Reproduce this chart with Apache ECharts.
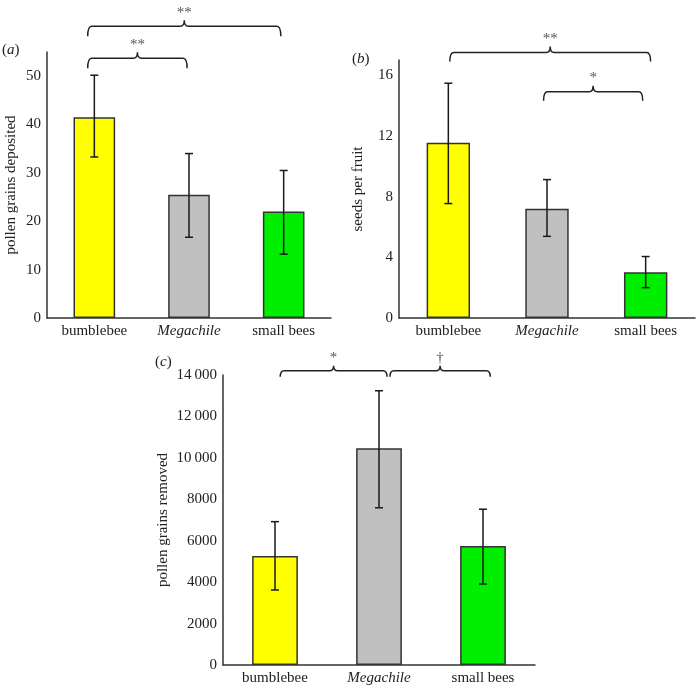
<!DOCTYPE html>
<html><head><meta charset="utf-8">
<script src="https://cdn.jsdelivr.net/npm/echarts@6/dist/echarts.min.js"></script>
<style>html,body{margin:0;padding:0;background:#fff}#c{width:696px;height:686px}</style>
</head><body><div id="c"></div>
<script>
var categories = ['bumblebee', 'Megachile', 'small bees'];
var pollenDeposited = [41.5, 25.5, 22.0];
var pollenDepositedLow = [33.3, 16.7, 13.2];
var pollenDepositedHigh = [50.2, 34.0, 30.5];
var seedsPerFruit = [11.55, 7.2, 3.02];
var seedsLow = [7.54, 5.38, 2.0];
var seedsHigh = [15.47, 9.12, 4.05];
var pollenRemoved = [5260, 10460, 5745];
var pollenRemovedLow = [3620, 7590, 3910];
var pollenRemovedHigh = [6920, 13240, 7520];
var barColors = ['#ffff00', '#c0c0c0', '#00ee00'];
// significance brackets: [from category, to category, level, label]
var bracesA = [[0, 2, 60.3, '**'], [0, 1, 53.7, '**']];
var bracesB = [[0, 2, 17.5, '**'], [1, 2, 14.9, '*']];
var bracesC = [[0, 1, 14200, '*'], [1, 2, 14200, '\u2020']];

// layout-only tweaks for the bracket ends (fraction of a category band)
var braceOffA = [[-0.07, -0.03], [-0.07, -0.02]];
var braceOffB = [[0.015, 0.05], [-0.035, -0.03]];
var braceOffC = [[0.05, 0.077], [0.105, 0.07]];

var FONT = '"Liberation Serif", "Times New Roman", serif';
var AX = '#333';

function errData(lo, hi) {
  return lo.map(function (l, i) { return [i, l, hi[i]]; });
}
function errRender(params, api) {
  var x = api.coord([api.value(0), 0])[0];
  var y1 = api.coord([0, api.value(1)])[1];
  var y2 = api.coord([0, api.value(2)])[1];
  var w = 4;
  var st = { stroke: '#1a1a1a', lineWidth: 1.5 };
  return { type: 'group', children: [
    { type: 'line', shape: { x1: x, y1: y1, x2: x, y2: y2 }, style: st },
    { type: 'line', shape: { x1: x - w, y1: y1, x2: x + w, y2: y1 }, style: st },
    { type: 'line', shape: { x1: x - w, y1: y2, x2: x + w, y2: y2 }, style: st }
  ]};
}
function braceData(b, off) {
  return b.map(function (d, i) { return [d[0], d[1], d[2], off[i][0], off[i][1]]; });
}
function makeBraceRender(braces, depth, tip) {
  return function (params, api) {
    var bw = api.size([1, 0])[0];
    var x0 = api.coord([api.value(0), 0])[0] + api.value(3) * bw;
    var x1 = api.coord([api.value(1), 0])[0] + api.value(4) * bw;
    var y = api.coord([0, api.value(2)])[1];
    var xm = (x0 + x1) / 2, r = 4;
    var p = 'M' + x0 + ' ' + (y + depth) +
      ' Q' + x0 + ' ' + y + ' ' + (x0 + r) + ' ' + y +
      ' L' + (xm - r) + ' ' + y +
      ' Q' + xm + ' ' + y + ' ' + xm + ' ' + (y - tip) +
      ' Q' + xm + ' ' + y + ' ' + (xm + r) + ' ' + y +
      ' L' + (x1 - r) + ' ' + y +
      ' Q' + x1 + ' ' + y + ' ' + x1 + ' ' + (y + depth);
    return { type: 'group', children: [
      { type: 'path', shape: { pathData: p }, style: { stroke: '#222', lineWidth: 1.5, fill: null } },
      { type: 'text', style: { text: braces[params.dataIndex][3], x: xm, y: y - tip,
        align: 'center', verticalAlign: 'bottom', fontSize: 15, fontFamily: FONT, fill: '#555' } }
    ]};
  };
}

function xAxisCfg(gi) {
  return {
    type: 'category', gridIndex: gi, data: categories,
    axisLine: { lineStyle: { color: AX, width: 1.5 } },
    axisTick: { show: false },
    axisLabel: {
      interval: 0, hideOverlap: false,
      margin: 6, color: '#222', fontSize: 15, fontFamily: FONT,
      formatter: function (v) { return v === 'Megachile' ? '{i|' + v + '}' : v; },
      rich: { i: { fontStyle: 'italic', fontSize: 15, fontFamily: FONT, color: '#222' } }
    }
  };
}
function yAxisCfg(gi, name, max, interval, gap, showMax, fmt) {
  return {
    type: 'value', gridIndex: gi, min: 0, max: max, interval: interval,
    name: name, nameLocation: 'middle', nameGap: gap, nameRotate: 90,
    nameTextStyle: { color: '#222', fontSize: 15, fontFamily: FONT },
    splitLine: { show: false },
    axisLine: { show: true, lineStyle: { color: AX, width: 1.5 } },
    axisTick: { show: false },
    axisLabel: { margin: 6, color: '#222', fontSize: 15, fontFamily: FONT, showMaxLabel: showMax,
      formatter: fmt }
  };
}
function barSeries(gi, vals) {
  return {
    type: 'bar', xAxisIndex: gi, yAxisIndex: gi, barWidth: '44%',
    data: vals.map(function (v, i) {
      return { value: v, itemStyle: { color: barColors[i] } };
    }),
    itemStyle: { borderColor: '#333', borderWidth: 1.5 },
    silent: true
  };
}
function errSeries(gi, lo, hi) {
  return { type: 'custom', xAxisIndex: gi, yAxisIndex: gi, renderItem: errRender,
    data: errData(lo, hi), clip: false, z: 5, silent: true };
}
function braceSeries(gi, b, off, depth, tip) {
  return { type: 'custom', xAxisIndex: gi, yAxisIndex: gi, renderItem: makeBraceRender(b, depth, tip),
    data: braceData(b, off), clip: false, z: 5, silent: true };
}
function thousand(v) {
  if (v >= 10000) { return Math.floor(v / 1000) + '\u2009' + String(v % 1000 + 1000).slice(1); }
  return String(v);
}
function panelLabel(letter, x, y) {
  return { type: 'text', left: x, top: y, style: {
    text: '(' + '{i|' + letter + '})', fontSize: 15, fontFamily: FONT, fill: '#222',
    rich: { i: { fontStyle: 'italic', fontSize: 15, fontFamily: FONT, fill: '#222' } } } };
}

var chart = echarts.init(document.getElementById('c'));
chart.setOption({
  backgroundColor: '#fff',
  animation: false,
  grid: [
    { left: 47, top: 52, right: 365, bottom: 368 },
    { left: 399, top: 60, right: 1, bottom: 368 },
    { left: 223, top: 375, right: 161, bottom: 21 }
  ],
  xAxis: [xAxisCfg(0), xAxisCfg(1), xAxisCfg(2)],
  yAxis: [
    yAxisCfg(0, 'pollen grains deposited', 55, 10, 28, false),
    yAxisCfg(1, 'seeds per fruit', 17, 4, 33, false),
    yAxisCfg(2, 'pollen grains removed', 14000, 2000, 52, true, thousand)
  ],
  graphic: [panelLabel('a', 2, 43), panelLabel('b', 352, 52), panelLabel('c', 155, 355)],
  series: [
    barSeries(0, pollenDeposited), errSeries(0, pollenDepositedLow, pollenDepositedHigh),
    braceSeries(0, bracesA, braceOffA, 10, 6),
    barSeries(1, seedsPerFruit), errSeries(1, seedsLow, seedsHigh),
    braceSeries(1, bracesB, braceOffB, 9, 6),
    barSeries(2, pollenRemoved), errSeries(2, pollenRemovedLow, pollenRemovedHigh),
    braceSeries(2, bracesC, braceOffC, 6, 5)
  ]
});
</script></body></html>
